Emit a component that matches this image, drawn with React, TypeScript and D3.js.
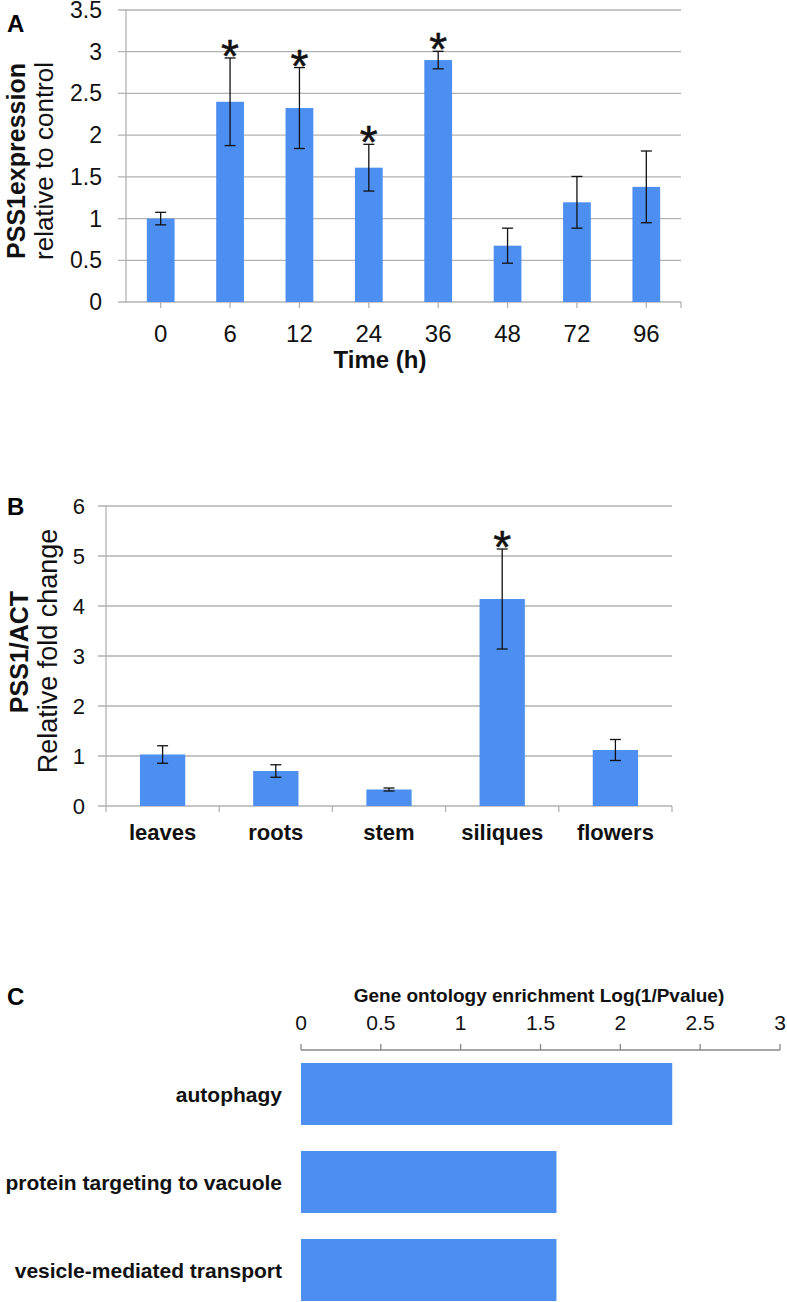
import React from "react";
import * as d3 from "d3";

// ---------- Panel A data ----------
const timeLabels = ["0", "6", "12", "24", "36", "48", "72", "96"];
const timeValues = [1.0, 2.4, 2.325, 1.61, 2.9, 0.675, 1.195, 1.38];
const timeErrors = [0.075, 0.525, 0.485, 0.28, 0.105, 0.21, 0.31, 0.43];
const timeSig = [false, true, true, true, true, false, false, false];
const timeTicks = [0, 0.5, 1, 1.5, 2, 2.5, 3, 3.5];

// ---------- Panel B data ----------
const tissues = ["leaves", "roots", "stem", "siliques", "flowers"];
const tissueValues = [1.03, 0.7, 0.33, 4.14, 1.12];
const tissueErrors = [0.175, 0.125, 0.03, 1.0, 0.21];
const tissueSig = [false, false, false, true, false];
const tissueTicks = [0, 1, 2, 3, 4, 5, 6];

// ---------- Panel C data ----------
const goTerms = ["autophagy", "protein targeting to vacuole", "vesicle-mediated transport"];
const goValues = [2.325, 1.6, 1.6];
const goTicks = [0, 0.5, 1, 1.5, 2, 2.5, 3];

const BLUE = "#4d8ff0";
const GRID = "#b2b2b2";
const FONT = "'Liberation Sans', Arial, Helvetica, sans-serif";

export default function App() {
  // Panel A scales
  const xA = d3.scaleBand<string>().domain(timeLabels).range([126, 681]).paddingInner(0.6).paddingOuter(0.3);
  const yA = d3.scaleLinear().domain([0, 3.5]).range([302, 10]);
  // Panel B scales
  const xB = d3.scaleBand<string>().domain(tissues).range([106, 672]).paddingInner(0.6).paddingOuter(0.3);
  const yB = d3.scaleLinear().domain([0, 6]).range([806, 506]);
  // Panel C scales
  const xC = d3.scaleLinear().domain([0, 3]).range([301, 780]);
  const yC = d3.scaleBand<string>().domain(goTerms).range([1050, 1314]).paddingInner(0.295).paddingOuter(0.1475);

  const cap = 5.5;

  const star = (cx: number, hi: number) => (
    <text x={cx} y={hi + 14} fontSize={46} textAnchor="middle" fill="#111" stroke="#111" strokeWidth={0.5}>*</text>
  );

  return (
    <svg
      width={787}
      height={1302}
      style={{ position: "absolute", left: 0, top: 0, background: "#fff" }}
      fontFamily={FONT}
    >
      <rect x={0} y={0} width={787} height={1302} fill="#fff" />

      {/* ================= Panel A ================= */}
      <text x={7} y={32} fontSize={24} fontWeight="bold">A</text>
      {timeTicks.map((t) => (
        <g key={"ga" + t}>
          <line x1={118} x2={681} y1={yA(t)} y2={yA(t)} stroke={GRID} strokeWidth={1.3} />
          <text x={102} y={yA(t) + 8} fontSize={23} textAnchor="end" fill="#111">{t}</text>
        </g>
      ))}
      <line x1={126} x2={126} y1={yA(3.5)} y2={yA(0)} stroke={GRID} strokeWidth={1.3} />
      {timeLabels.map((c) => (
        <line key={"ta" + c} x1={xA(c)! + xA.bandwidth() / 2} x2={xA(c)! + xA.bandwidth() / 2} y1={302} y2={308} stroke={GRID} strokeWidth={1.3} />
      ))}
      <line x1={681} x2={681} y1={302} y2={308} stroke={GRID} strokeWidth={1.3} />
      {timeLabels.map((c, i) => {
        const cx = xA(c)! + xA.bandwidth() / 2;
        const hi = yA(timeValues[i] + timeErrors[i]);
        const lo = yA(timeValues[i] - timeErrors[i]);
        return (
          <g key={"ba" + c}>
            <rect x={xA(c)!} y={yA(timeValues[i])} width={xA.bandwidth()} height={yA(0) - yA(timeValues[i])} fill={BLUE} />
            <line x1={cx} x2={cx} y1={hi} y2={lo} stroke="#111" strokeWidth={1.3} />
            <line x1={cx - cap} x2={cx + cap} y1={hi} y2={hi} stroke="#111" strokeWidth={1.3} />
            <line x1={cx - cap} x2={cx + cap} y1={lo} y2={lo} stroke="#111" strokeWidth={1.3} />
            {timeSig[i] && star(cx, hi)}
            <text x={cx} y={342} fontSize={24} textAnchor="middle" fill="#111">{c}</text>
          </g>
        );
      })}
      <text x={380} y={368} fontSize={24} fontWeight="bold" textAnchor="middle" fill="#111">Time (h)</text>
      <text transform="translate(25,161) rotate(-90)" fontSize={25} fontWeight="bold" textAnchor="middle" fill="#111">PSS1expression</text>
      <text transform="translate(53,161) rotate(-90)" fontSize={26} textAnchor="middle" fill="#111">relative to control</text>

      {/* ================= Panel B ================= */}
      <text x={7} y={515} fontSize={24} fontWeight="bold">B</text>
      {tissueTicks.map((t) => (
        <g key={"gb" + t}>
          <line x1={98} x2={672} y1={yB(t)} y2={yB(t)} stroke={GRID} strokeWidth={1.3} />
          <text x={85} y={yB(t) + 7.5} fontSize={22} textAnchor="end" fill="#111">{t}</text>
        </g>
      ))}
      <line x1={106} x2={106} y1={yB(6)} y2={yB(0) + 6} stroke={GRID} strokeWidth={1.3} />
      {tissues.map((c) => (
        <line key={"tb" + c} x1={xB(c)! + xB.step() * 0.7} x2={xB(c)! + xB.step() * 0.7} y1={806} y2={812} stroke={GRID} strokeWidth={1.3} />
      ))}
      {tissues.map((c, i) => {
        const cx = xB(c)! + xB.bandwidth() / 2;
        const hi = yB(tissueValues[i] + tissueErrors[i]);
        const lo = yB(tissueValues[i] - tissueErrors[i]);
        return (
          <g key={"bb" + c}>
            <rect x={xB(c)!} y={yB(tissueValues[i])} width={xB.bandwidth()} height={yB(0) - yB(tissueValues[i])} fill={BLUE} />
            <line x1={cx} x2={cx} y1={hi} y2={lo} stroke="#111" strokeWidth={1.3} />
            <line x1={cx - cap} x2={cx + cap} y1={hi} y2={hi} stroke="#111" strokeWidth={1.3} />
            <line x1={cx - cap} x2={cx + cap} y1={lo} y2={lo} stroke="#111" strokeWidth={1.3} />
            {tissueSig[i] && star(cx, hi)}
            <text x={cx} y={840} fontSize={22} fontWeight="bold" textAnchor="middle" fill="#111">{c}</text>
          </g>
        );
      })}
      <text transform="translate(28,652) rotate(-90)" fontSize={25} fontWeight="bold" textAnchor="middle" fill="#111">PSS1/ACT</text>
      <text transform="translate(57,651) rotate(-90)" fontSize={27} textAnchor="middle" fill="#111">Relative fold change</text>

      {/* ================= Panel C ================= */}
      <text x={7} y={1005} fontSize={24} fontWeight="bold">C</text>
      <text x={539} y={1002} fontSize={19} fontWeight="bold" textAnchor="middle" fill="#111">Gene ontology enrichment Log(1/Pvalue)</text>
      <line x1={xC(0)} x2={xC(3)} y1={1050} y2={1050} stroke="#888" strokeWidth={1.3} />
      {goTicks.map((t) => (
        <g key={"tc" + t}>
          <line x1={xC(t)} x2={xC(t)} y1={1044} y2={1050} stroke="#888" strokeWidth={1.3} />
          <text x={xC(t)} y={1030} fontSize={21} textAnchor="middle" fill="#111">{t}</text>
        </g>
      ))}
      {goTerms.map((c, i) => (
        <g key={"bc" + c}>
          <rect x={xC(0)} y={yC(c)!} width={xC(goValues[i]) - xC(0)} height={yC.bandwidth()} fill={BLUE} />
          <text x={282} y={yC(c)! + yC.bandwidth() / 2 + 8} fontSize={21} fontWeight="bold" textAnchor="end" fill="#111">{c}</text>
        </g>
      ))}
    </svg>
  );
}
